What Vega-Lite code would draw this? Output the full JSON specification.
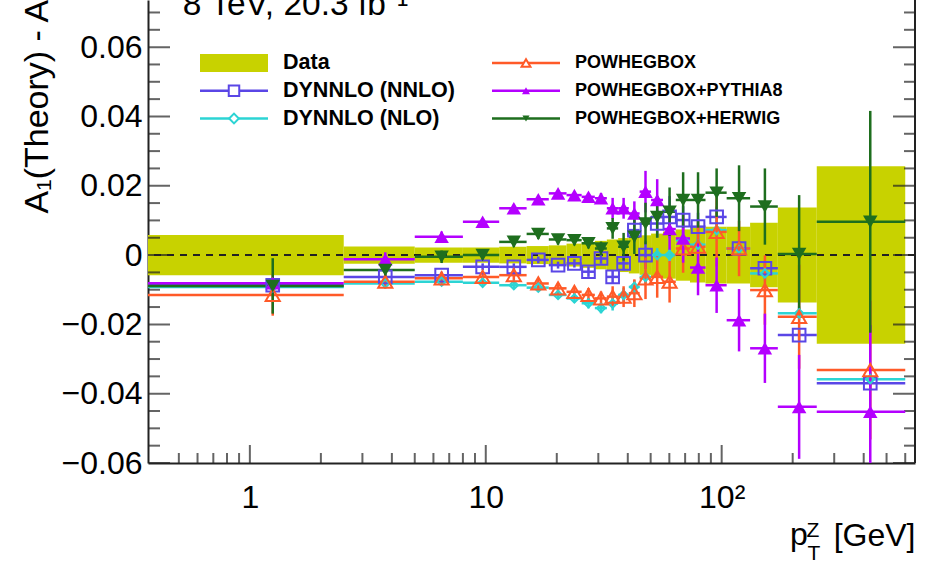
{
  "$schema": "https://vega.github.io/schema/vega-lite/v6.json",
  "width": 767,
  "height": 463,
  "autosize": {"type": "none"},
  "padding": {"left": 148, "top": 0, "right": 15, "bottom": 99},
  "background": "white",
  "config": {"view": {"stroke": null}, "font": "Liberation Sans", "axis": {"grid": false}},
  "resolve": {"scale": {"x": "independent", "y": "independent", "shape": "independent", "size": "independent"}},
  "datasets": {
    "band": [
      {"xlo": 0, "xhi": 2.5, "lo": -0.0058, "hi": 0.0058},
      {"xlo": 2.5, "xhi": 5, "lo": -0.0025, "hi": 0.0025},
      {"xlo": 5, "xhi": 8, "lo": -0.0022, "hi": 0.0022},
      {"xlo": 8, "xhi": 11.4, "lo": -0.0022, "hi": 0.0022},
      {"xlo": 11.4, "xhi": 14.9, "lo": -0.0024, "hi": 0.0024},
      {"xlo": 14.9, "xhi": 18.5, "lo": -0.0026, "hi": 0.0026},
      {"xlo": 18.5, "xhi": 22, "lo": -0.0028, "hi": 0.0028},
      {"xlo": 22, "xhi": 25.5, "lo": -0.0033, "hi": 0.0033},
      {"xlo": 25.5, "xhi": 29, "lo": -0.0037, "hi": 0.0037},
      {"xlo": 29, "xhi": 32.6, "lo": -0.0041, "hi": 0.0041},
      {"xlo": 32.6, "xhi": 36.4, "lo": -0.0045, "hi": 0.0045},
      {"xlo": 36.4, "xhi": 40.4, "lo": -0.0049, "hi": 0.0049},
      {"xlo": 40.4, "xhi": 44.9, "lo": -0.0053, "hi": 0.0053},
      {"xlo": 44.9, "xhi": 50.2, "lo": -0.0057, "hi": 0.0057},
      {"xlo": 50.2, "xhi": 56.4, "lo": -0.0062, "hi": 0.0062},
      {"xlo": 56.4, "xhi": 63.9, "lo": -0.0068, "hi": 0.0068},
      {"xlo": 63.9, "xhi": 73.4, "lo": -0.0074, "hi": 0.0074},
      {"xlo": 73.4, "xhi": 85.4, "lo": -0.0079, "hi": 0.0079},
      {"xlo": 85.4, "xhi": 105, "lo": -0.0082, "hi": 0.0082},
      {"xlo": 105, "xhi": 132, "lo": -0.0082, "hi": 0.0082},
      {"xlo": 132, "xhi": 173, "lo": -0.0093, "hi": 0.0093},
      {"xlo": 173, "xhi": 253, "lo": -0.0137, "hi": 0.0137},
      {"xlo": 253, "xhi": 600, "lo": -0.0256, "hi": 0.0256}
    ],
    "theory": [
      {"s": "DYNNLO (NNLO)", "x": 1.25, "xlo": 0, "xhi": 2.5, "y": -0.0087, "e": 0.001},
      {"s": "DYNNLO (NNLO)", "x": 3.75, "xlo": 2.5, "xhi": 5, "y": -0.0063, "e": 0.001},
      {"s": "DYNNLO (NNLO)", "x": 6.5, "xlo": 5, "xhi": 8, "y": -0.0058, "e": 0.001},
      {"s": "DYNNLO (NNLO)", "x": 9.7, "xlo": 8, "xhi": 11.4, "y": -0.0034, "e": 0.001},
      {"s": "DYNNLO (NNLO)", "x": 13.15, "xlo": 11.4, "xhi": 14.9, "y": -0.0034, "e": 0.001},
      {"s": "DYNNLO (NNLO)", "x": 16.7, "xlo": 14.9, "xhi": 18.5, "y": -0.0014, "e": 0.001},
      {"s": "DYNNLO (NNLO)", "x": 20.25, "xlo": 18.5, "xhi": 22, "y": -0.0029, "e": 0.001},
      {"s": "DYNNLO (NNLO)", "x": 23.75, "xlo": 22, "xhi": 25.5, "y": -0.0024, "e": 0.0012},
      {"s": "DYNNLO (NNLO)", "x": 27.25, "xlo": 25.5, "xhi": 29, "y": -0.0048, "e": 0.0015},
      {"s": "DYNNLO (NNLO)", "x": 30.8, "xlo": 29, "xhi": 32.6, "y": -0.001, "e": 0.0015},
      {"s": "DYNNLO (NNLO)", "x": 34.5, "xlo": 32.6, "xhi": 36.4, "y": -0.0063, "e": 0.002},
      {"s": "DYNNLO (NNLO)", "x": 38.4, "xlo": 36.4, "xhi": 40.4, "y": -0.0024, "e": 0.002},
      {"s": "DYNNLO (NNLO)", "x": 42.65, "xlo": 40.4, "xhi": 44.9, "y": 0.0072, "e": 0.0035},
      {"s": "DYNNLO (NNLO)", "x": 47.55, "xlo": 44.9, "xhi": 50.2, "y": 0.0, "e": 0.004},
      {"s": "DYNNLO (NNLO)", "x": 53.3, "xlo": 50.2, "xhi": 56.4, "y": 0.0091, "e": 0.004},
      {"s": "DYNNLO (NNLO)", "x": 60.15, "xlo": 56.4, "xhi": 63.9, "y": 0.011, "e": 0.006},
      {"s": "DYNNLO (NNLO)", "x": 68.65, "xlo": 63.9, "xhi": 73.4, "y": 0.0101, "e": 0.004},
      {"s": "DYNNLO (NNLO)", "x": 79.4, "xlo": 73.4, "xhi": 85.4, "y": 0.0082, "e": 0.004},
      {"s": "DYNNLO (NNLO)", "x": 95.2, "xlo": 85.4, "xhi": 105, "y": 0.011, "e": 0.003},
      {"s": "DYNNLO (NNLO)", "x": 118.5, "xlo": 105, "xhi": 132, "y": 0.0019, "e": 0.002},
      {"s": "DYNNLO (NNLO)", "x": 152.5, "xlo": 132, "xhi": 173, "y": -0.0038, "e": 0.002},
      {"s": "DYNNLO (NNLO)", "x": 213, "xlo": 173, "xhi": 253, "y": -0.0231, "e": 0.002},
      {"s": "DYNNLO (NNLO)", "x": 426.5, "xlo": 253, "xhi": 600, "y": -0.037, "e": 0.002},

      {"s": "DYNNLO (NLO)", "x": 1.25, "xlo": 0, "xhi": 2.5, "y": -0.0092, "e": 0.0015},
      {"s": "DYNNLO (NLO)", "x": 3.75, "xlo": 2.5, "xhi": 5, "y": -0.0082, "e": 0.001},
      {"s": "DYNNLO (NLO)", "x": 6.5, "xlo": 5, "xhi": 8, "y": -0.0077, "e": 0.001},
      {"s": "DYNNLO (NLO)", "x": 9.7, "xlo": 8, "xhi": 11.4, "y": -0.008, "e": 0.001},
      {"s": "DYNNLO (NLO)", "x": 13.15, "xlo": 11.4, "xhi": 14.9, "y": -0.0087, "e": 0.001},
      {"s": "DYNNLO (NLO)", "x": 16.7, "xlo": 14.9, "xhi": 18.5, "y": -0.0094, "e": 0.001},
      {"s": "DYNNLO (NLO)", "x": 20.25, "xlo": 18.5, "xhi": 22, "y": -0.0115, "e": 0.0012},
      {"s": "DYNNLO (NLO)", "x": 23.75, "xlo": 22, "xhi": 25.5, "y": -0.0125, "e": 0.0012},
      {"s": "DYNNLO (NLO)", "x": 27.25, "xlo": 25.5, "xhi": 29, "y": -0.0139, "e": 0.0015},
      {"s": "DYNNLO (NLO)", "x": 30.8, "xlo": 29, "xhi": 32.6, "y": -0.0153, "e": 0.0015},
      {"s": "DYNNLO (NLO)", "x": 34.5, "xlo": 32.6, "xhi": 36.4, "y": -0.014, "e": 0.002},
      {"s": "DYNNLO (NLO)", "x": 38.4, "xlo": 36.4, "xhi": 40.4, "y": -0.0115, "e": 0.002},
      {"s": "DYNNLO (NLO)", "x": 42.65, "xlo": 40.4, "xhi": 44.9, "y": -0.0092, "e": 0.002},
      {"s": "DYNNLO (NLO)", "x": 47.55, "xlo": 44.9, "xhi": 50.2, "y": -0.0063, "e": 0.002},
      {"s": "DYNNLO (NLO)", "x": 53.3, "xlo": 50.2, "xhi": 56.4, "y": 0.0, "e": 0.002},
      {"s": "DYNNLO (NLO)", "x": 60.15, "xlo": 56.4, "xhi": 63.9, "y": 0.0, "e": 0.002},
      {"s": "DYNNLO (NLO)", "x": 68.65, "xlo": 63.9, "xhi": 73.4, "y": 0.0043, "e": 0.0025},
      {"s": "DYNNLO (NLO)", "x": 79.4, "xlo": 73.4, "xhi": 85.4, "y": 0.003, "e": 0.003},
      {"s": "DYNNLO (NLO)", "x": 95.2, "xlo": 85.4, "xhi": 105, "y": 0.0072, "e": 0.003},
      {"s": "DYNNLO (NLO)", "x": 118.5, "xlo": 105, "xhi": 132, "y": 0.0019, "e": 0.002},
      {"s": "DYNNLO (NLO)", "x": 152.5, "xlo": 132, "xhi": 173, "y": -0.0053, "e": 0.002},
      {"s": "DYNNLO (NLO)", "x": 213, "xlo": 173, "xhi": 253, "y": -0.0168, "e": 0.002},
      {"s": "DYNNLO (NLO)", "x": 426.5, "xlo": 253, "xhi": 600, "y": -0.0358, "e": 0.002},

      {"s": "POWHEGBOX", "x": 1.25, "xlo": 0, "xhi": 2.5, "y": -0.0115, "e": 0.006},
      {"s": "POWHEGBOX", "x": 3.75, "xlo": 2.5, "xhi": 5, "y": -0.0077, "e": 0.002},
      {"s": "POWHEGBOX", "x": 6.5, "xlo": 5, "xhi": 8, "y": -0.0067, "e": 0.0015},
      {"s": "POWHEGBOX", "x": 9.7, "xlo": 8, "xhi": 11.4, "y": -0.0063, "e": 0.0015},
      {"s": "POWHEGBOX", "x": 13.15, "xlo": 11.4, "xhi": 14.9, "y": -0.0058, "e": 0.0015},
      {"s": "POWHEGBOX", "x": 16.7, "xlo": 14.9, "xhi": 18.5, "y": -0.0082, "e": 0.0015},
      {"s": "POWHEGBOX", "x": 20.25, "xlo": 18.5, "xhi": 22, "y": -0.0096, "e": 0.0015},
      {"s": "POWHEGBOX", "x": 23.75, "xlo": 22, "xhi": 25.5, "y": -0.0106, "e": 0.0015},
      {"s": "POWHEGBOX", "x": 27.25, "xlo": 25.5, "xhi": 29, "y": -0.0115, "e": 0.002},
      {"s": "POWHEGBOX", "x": 30.8, "xlo": 29, "xhi": 32.6, "y": -0.0125, "e": 0.002},
      {"s": "POWHEGBOX", "x": 34.5, "xlo": 32.6, "xhi": 36.4, "y": -0.012, "e": 0.003},
      {"s": "POWHEGBOX", "x": 38.4, "xlo": 36.4, "xhi": 40.4, "y": -0.012, "e": 0.003},
      {"s": "POWHEGBOX", "x": 42.65, "xlo": 40.4, "xhi": 44.9, "y": -0.011, "e": 0.004},
      {"s": "POWHEGBOX", "x": 47.55, "xlo": 44.9, "xhi": 50.2, "y": -0.0067, "e": 0.006},
      {"s": "POWHEGBOX", "x": 53.3, "xlo": 50.2, "xhi": 56.4, "y": -0.0063, "e": 0.006},
      {"s": "POWHEGBOX", "x": 60.15, "xlo": 56.4, "xhi": 63.9, "y": -0.0077, "e": 0.006},
      {"s": "POWHEGBOX", "x": 68.65, "xlo": 63.9, "xhi": 73.4, "y": 0.0019, "e": 0.007},
      {"s": "POWHEGBOX", "x": 79.4, "xlo": 73.4, "xhi": 85.4, "y": 0.0024, "e": 0.008},
      {"s": "POWHEGBOX", "x": 95.2, "xlo": 85.4, "xhi": 105, "y": 0.0067, "e": 0.01},
      {"s": "POWHEGBOX", "x": 118.5, "xlo": 105, "xhi": 132, "y": 0.0019, "e": 0.008},
      {"s": "POWHEGBOX", "x": 152.5, "xlo": 132, "xhi": 173, "y": -0.0101, "e": 0.01},
      {"s": "POWHEGBOX", "x": 213, "xlo": 173, "xhi": 253, "y": -0.0178, "e": 0.015},
      {"s": "POWHEGBOX", "x": 426.5, "xlo": 253, "xhi": 600, "y": -0.0332, "e": 0.02},

      {"s": "POWHEGBOX+PYTHIA8", "x": 1.25, "xlo": 0, "xhi": 2.5, "y": -0.0081, "e": 0.001},
      {"s": "POWHEGBOX+PYTHIA8", "x": 3.75, "xlo": 2.5, "xhi": 5, "y": -0.0012, "e": 0.002},
      {"s": "POWHEGBOX+PYTHIA8", "x": 6.5, "xlo": 5, "xhi": 8, "y": 0.0053, "e": 0.0015},
      {"s": "POWHEGBOX+PYTHIA8", "x": 9.7, "xlo": 8, "xhi": 11.4, "y": 0.0096, "e": 0.001},
      {"s": "POWHEGBOX+PYTHIA8", "x": 13.15, "xlo": 11.4, "xhi": 14.9, "y": 0.0135, "e": 0.001},
      {"s": "POWHEGBOX+PYTHIA8", "x": 16.7, "xlo": 14.9, "xhi": 18.5, "y": 0.0161, "e": 0.001},
      {"s": "POWHEGBOX+PYTHIA8", "x": 20.25, "xlo": 18.5, "xhi": 22, "y": 0.0178, "e": 0.001},
      {"s": "POWHEGBOX+PYTHIA8", "x": 23.75, "xlo": 22, "xhi": 25.5, "y": 0.0173, "e": 0.001},
      {"s": "POWHEGBOX+PYTHIA8", "x": 27.25, "xlo": 25.5, "xhi": 29, "y": 0.0168, "e": 0.001},
      {"s": "POWHEGBOX+PYTHIA8", "x": 30.8, "xlo": 29, "xhi": 32.6, "y": 0.0164, "e": 0.0015},
      {"s": "POWHEGBOX+PYTHIA8", "x": 34.5, "xlo": 32.6, "xhi": 36.4, "y": 0.0135, "e": 0.003},
      {"s": "POWHEGBOX+PYTHIA8", "x": 38.4, "xlo": 36.4, "xhi": 40.4, "y": 0.0135, "e": 0.003},
      {"s": "POWHEGBOX+PYTHIA8", "x": 42.65, "xlo": 40.4, "xhi": 44.9, "y": 0.012, "e": 0.0035},
      {"s": "POWHEGBOX+PYTHIA8", "x": 47.55, "xlo": 44.9, "xhi": 50.2, "y": 0.0183, "e": 0.006},
      {"s": "POWHEGBOX+PYTHIA8", "x": 53.3, "xlo": 50.2, "xhi": 56.4, "y": 0.0159, "e": 0.006},
      {"s": "POWHEGBOX+PYTHIA8", "x": 60.15, "xlo": 56.4, "xhi": 63.9, "y": 0.0075, "e": 0.006},
      {"s": "POWHEGBOX+PYTHIA8", "x": 68.65, "xlo": 63.9, "xhi": 73.4, "y": 0.0048, "e": 0.007},
      {"s": "POWHEGBOX+PYTHIA8", "x": 79.4, "xlo": 73.4, "xhi": 85.4, "y": -0.0036, "e": 0.008},
      {"s": "POWHEGBOX+PYTHIA8", "x": 95.2, "xlo": 85.4, "xhi": 105, "y": -0.0087, "e": 0.008},
      {"s": "POWHEGBOX+PYTHIA8", "x": 118.5, "xlo": 105, "xhi": 132, "y": -0.0188, "e": 0.009},
      {"s": "POWHEGBOX+PYTHIA8", "x": 152.5, "xlo": 132, "xhi": 173, "y": -0.0269, "e": 0.01},
      {"s": "POWHEGBOX+PYTHIA8", "x": 213, "xlo": 173, "xhi": 253, "y": -0.0438, "e": 0.015},
      {"s": "POWHEGBOX+PYTHIA8", "x": 426.5, "xlo": 253, "xhi": 600, "y": -0.0452, "e": 0.025},

      {"s": "POWHEGBOX+HERWIG", "x": 1.25, "xlo": 0, "xhi": 2.5, "y": -0.0089, "e": 0.008},
      {"s": "POWHEGBOX+HERWIG", "x": 3.75, "xlo": 2.5, "xhi": 5, "y": -0.0043, "e": 0.002},
      {"s": "POWHEGBOX+HERWIG", "x": 6.5, "xlo": 5, "xhi": 8, "y": -0.0005, "e": 0.0018},
      {"s": "POWHEGBOX+HERWIG", "x": 9.7, "xlo": 8, "xhi": 11.4, "y": 0.0, "e": 0.0015},
      {"s": "POWHEGBOX+HERWIG", "x": 13.15, "xlo": 11.4, "xhi": 14.9, "y": 0.0038, "e": 0.0015},
      {"s": "POWHEGBOX+HERWIG", "x": 16.7, "xlo": 14.9, "xhi": 18.5, "y": 0.0061, "e": 0.0015},
      {"s": "POWHEGBOX+HERWIG", "x": 20.25, "xlo": 18.5, "xhi": 22, "y": 0.0045, "e": 0.0015},
      {"s": "POWHEGBOX+HERWIG", "x": 23.75, "xlo": 22, "xhi": 25.5, "y": 0.0043, "e": 0.0015},
      {"s": "POWHEGBOX+HERWIG", "x": 27.25, "xlo": 25.5, "xhi": 29, "y": 0.0034, "e": 0.0015},
      {"s": "POWHEGBOX+HERWIG", "x": 30.8, "xlo": 29, "xhi": 32.6, "y": 0.0019, "e": 0.002},
      {"s": "POWHEGBOX+HERWIG", "x": 34.5, "xlo": 32.6, "xhi": 36.4, "y": 0.0077, "e": 0.003},
      {"s": "POWHEGBOX+HERWIG", "x": 38.4, "xlo": 36.4, "xhi": 40.4, "y": 0.0024, "e": 0.004},
      {"s": "POWHEGBOX+HERWIG", "x": 42.65, "xlo": 40.4, "xhi": 44.9, "y": 0.0053, "e": 0.005},
      {"s": "POWHEGBOX+HERWIG", "x": 47.55, "xlo": 44.9, "xhi": 50.2, "y": 0.0091, "e": 0.006},
      {"s": "POWHEGBOX+HERWIG", "x": 53.3, "xlo": 50.2, "xhi": 56.4, "y": 0.011, "e": 0.006},
      {"s": "POWHEGBOX+HERWIG", "x": 60.15, "xlo": 56.4, "xhi": 63.9, "y": 0.0125, "e": 0.007},
      {"s": "POWHEGBOX+HERWIG", "x": 68.65, "xlo": 63.9, "xhi": 73.4, "y": 0.0159, "e": 0.008},
      {"s": "POWHEGBOX+HERWIG", "x": 79.4, "xlo": 73.4, "xhi": 85.4, "y": 0.0159, "e": 0.008},
      {"s": "POWHEGBOX+HERWIG", "x": 95.2, "xlo": 85.4, "xhi": 105, "y": 0.018, "e": 0.007},
      {"s": "POWHEGBOX+HERWIG", "x": 118.5, "xlo": 105, "xhi": 132, "y": 0.0164, "e": 0.0095},
      {"s": "POWHEGBOX+HERWIG", "x": 152.5, "xlo": 132, "xhi": 173, "y": 0.014, "e": 0.011},
      {"s": "POWHEGBOX+HERWIG", "x": 213, "xlo": 173, "xhi": 253, "y": 0.0003, "e": 0.017},
      {"s": "POWHEGBOX+HERWIG", "x": 426.5, "xlo": 253, "xhi": 600, "y": 0.0096, "e": 0.032}
    ],
    "xmaj": [{"v": 1}, {"v": 10}, {"v": 100}],
    "xmin": [{"v": 0.5}, {"v": 0.6}, {"v": 0.7}, {"v": 0.8}, {"v": 0.9}, {"v": 2}, {"v": 3}, {"v": 4}, {"v": 5}, {"v": 6}, {"v": 7}, {"v": 8}, {"v": 9}, {"v": 20}, {"v": 30}, {"v": 40}, {"v": 50}, {"v": 60}, {"v": 70}, {"v": 80}, {"v": 90}, {"v": 200}, {"v": 300}, {"v": 400}, {"v": 500}, {"v": 600}],
    "ymaj": [{"v": -0.06}, {"v": -0.04}, {"v": -0.02}, {"v": 0}, {"v": 0.02}, {"v": 0.04}, {"v": 0.06}],
    "ymin": [{"v": -0.055}, {"v": -0.05}, {"v": -0.045}, {"v": -0.035}, {"v": -0.03}, {"v": -0.025}, {"v": -0.015}, {"v": -0.01}, {"v": -0.005}, {"v": 0.005}, {"v": 0.01}, {"v": 0.015}, {"v": 0.025}, {"v": 0.03}, {"v": 0.035}, {"v": 0.045}, {"v": 0.05}, {"v": 0.055}, {"v": 0.065}, {"v": 0.07}],
    "note": [{"t": "8 TeV, 20.3 fb⁻¹", "x": 0.52, "y": 0.0693}],
    "pt": [{"t": "p", "x": 195, "y": -0.0837}],
    "scripts": [{"t": "Z", "x": 229, "y": -0.0814}, {"t": "T", "x": 231, "y": -0.088}],
    "one": [{"z": 0}],
    "leg": [
      {"s": "Data", "col": 0, "row": 0},
      {"s": "DYNNLO (NNLO)", "col": 0, "row": 1},
      {"s": "DYNNLO (NLO)", "col": 0, "row": 2},
      {"s": "POWHEGBOX", "col": 1, "row": 0},
      {"s": "POWHEGBOX+PYTHIA8", "col": 1, "row": 1},
      {"s": "POWHEGBOX+HERWIG", "col": 1, "row": 2}
    ]
  },
  "layer": [
    {
      "layer": [
        {
          "data": {"name": "band"},
          "mark": {"type": "rect", "color": "#c8d200", "invalid": "show", "clip": true},
          "encoding": {
            "x": {"field": "xlo", "type": "quantitative",
              "scale": {"type": "log", "domain": [0.37, 660], "nice": false, "clamp": true},
              "axis": {"orient": "bottom", "values": [1, 10, 100], "labelExpr": "datum.value == 100 ? '10²' : datum.value == 10 ? '10' : '1'",
                "ticks": false, "domainColor": "#222", "domainWidth": 2,
                "labelFont": "Liberation Sans", "labelFontSize": 32, "labelColor": "black", "labelPadding": 19, "labelFlush": false, "labelOverlap": false,
                "title": "[GeV]", "titleFont": "Liberation Sans", "titleFontSize": 32, "titleFontWeight": "normal", "titleColor": "black",
                "titleAnchor": "end", "titleAlign": "right", "titleX": 767, "titleY": 82, "titleBaseline": "alphabetic"}},
            "x2": {"field": "xhi"},
            "y": {"field": "lo", "type": "quantitative",
              "scale": {"domain": [-0.06, 0.0736], "nice": false, "zero": false},
              "axis": {"orient": "left", "values": [-0.06, -0.04, -0.02, 0, 0.02, 0.04, 0.06],
                "labelExpr": "datum.value == 0 ? '0' : format(datum.value, '.2f')",
                "ticks": false, "domainColor": "#222", "domainWidth": 2,
                "labelFont": "Liberation Sans", "labelFontSize": 32, "labelColor": "black", "labelPadding": 6, "labelFlush": false, "labelOverlap": false,
                "title": "A₁(Theory) - A₁(Data)", "titleFont": "Liberation Sans", "titleFontSize": 34, "titleFontWeight": "normal", "titleColor": "black",
                "titleAngle": 270, "titleAlign": "left", "titleBaseline": "alphabetic", "titleX": -101, "titleY": 213}},
            "y2": {"field": "hi"}
          }
        },
        {
          "data": {"name": "one"},
          "mark": {"type": "rule", "strokeDash": [7, 6], "strokeWidth": 2, "color": "#222"},
          "encoding": {"y": {"datum": 0, "type": "quantitative"}}
        },
        {
          "data": {"name": "one"},
          "mark": {"type": "rule", "strokeWidth": 2, "color": "#222"},
          "encoding": {"x": {"datum": 660, "type": "quantitative"}}
        },
        {
          "data": {"name": "xmaj"},
          "mark": {"type": "tick", "orient": "vertical", "size": 36, "thickness": 2, "color": "#222", "clip": true},
          "encoding": {"x": {"field": "v", "type": "quantitative"}, "y": {"datum": -0.06, "type": "quantitative"}}
        },
        {
          "data": {"name": "xmin"},
          "mark": {"type": "tick", "orient": "vertical", "size": 20, "thickness": 2, "color": "#222", "clip": true},
          "encoding": {"x": {"field": "v", "type": "quantitative"}, "y": {"datum": -0.06, "type": "quantitative"}}
        },
        {
          "data": {"name": "ymaj"},
          "mark": {"type": "tick", "orient": "horizontal", "size": 44, "thickness": 2, "color": "#222", "clip": true},
          "encoding": {"y": {"field": "v", "type": "quantitative"}, "x": {"datum": 0.37, "type": "quantitative"}}
        },
        {
          "data": {"name": "ymin"},
          "mark": {"type": "tick", "orient": "horizontal", "size": 24, "thickness": 2, "color": "#222", "clip": true},
          "encoding": {"y": {"field": "v", "type": "quantitative"}, "x": {"datum": 0.37, "type": "quantitative"}}
        },
        {
          "data": {"name": "ymaj"},
          "mark": {"type": "tick", "orient": "horizontal", "size": 44, "thickness": 2, "color": "#222", "clip": true},
          "encoding": {"y": {"field": "v", "type": "quantitative"}, "x": {"datum": 660, "type": "quantitative"}}
        },
        {
          "data": {"name": "ymin"},
          "mark": {"type": "tick", "orient": "horizontal", "size": 22, "thickness": 2, "color": "#222", "clip": true},
          "encoding": {"y": {"field": "v", "type": "quantitative"}, "x": {"datum": 660, "type": "quantitative"}}
        },
        {
          "data": {"name": "theory"},
          "mark": {"type": "rule", "strokeWidth": 2.5, "clip": true, "invalid": "show"},
          "encoding": {
            "x": {"field": "xlo", "type": "quantitative"},
            "x2": {"field": "xhi"},
            "y": {"field": "y", "type": "quantitative"},
            "color": {"field": "s", "type": "nominal", "legend": null,
              "scale": {"domain": ["Data", "POWHEGBOX", "DYNNLO (NNLO)", "POWHEGBOX+PYTHIA8", "DYNNLO (NLO)", "POWHEGBOX+HERWIG"],
                        "range": ["#c8d200", "#ff5a28", "#5a46e6", "#b400ff", "#2cd4d4", "#1e6e1e"]}}
          }
        },
        {
          "data": {"name": "theory"},
          "mark": {"type": "errorbar", "ticks": false, "thickness": 2.5, "clip": true},
          "encoding": {
            "x": {"field": "x", "type": "quantitative"},
            "y": {"field": "y", "type": "quantitative"},
            "yError": {"field": "e"},
            "color": {"field": "s", "type": "nominal", "legend": null}
          }
        },
        {
          "data": {"name": "theory"},
          "transform": [{"filter": {"field": "s", "equal": "DYNNLO (NNLO)"}}],
          "mark": {"type": "point", "shape": "square", "size": 160, "filled": false, "strokeWidth": 2, "opacity": 1, "clip": true},
          "encoding": {
            "x": {"field": "x", "type": "quantitative"},
            "y": {"field": "y", "type": "quantitative"},
            "color": {"field": "s", "type": "nominal", "legend": null}
          }
        },
        {
          "data": {"name": "theory"},
          "transform": [{"filter": {"field": "s", "equal": "DYNNLO (NLO)"}}],
          "mark": {"type": "point", "shape": "diamond", "size": 70, "filled": false, "strokeWidth": 2, "opacity": 1, "clip": true},
          "encoding": {
            "x": {"field": "x", "type": "quantitative"},
            "y": {"field": "y", "type": "quantitative"},
            "color": {"field": "s", "type": "nominal", "legend": null}
          }
        },
        {
          "data": {"name": "theory"},
          "transform": [{"filter": {"field": "s", "equal": "POWHEGBOX"}}],
          "mark": {"type": "point", "shape": "triangle-up", "size": 200, "filled": false, "strokeWidth": 2, "opacity": 1, "clip": true},
          "encoding": {
            "x": {"field": "x", "type": "quantitative"},
            "y": {"field": "y", "type": "quantitative"},
            "color": {"field": "s", "type": "nominal", "legend": null}
          }
        },
        {
          "data": {"name": "theory"},
          "transform": [{"filter": {"field": "s", "equal": "POWHEGBOX+PYTHIA8"}}],
          "mark": {"type": "point", "shape": "triangle-up", "size": 210, "filled": true, "opacity": 1, "clip": true},
          "encoding": {
            "x": {"field": "x", "type": "quantitative"},
            "y": {"field": "y", "type": "quantitative"},
            "color": {"field": "s", "type": "nominal", "legend": null}
          }
        },
        {
          "data": {"name": "theory"},
          "transform": [{"filter": {"field": "s", "equal": "POWHEGBOX+HERWIG"}}],
          "mark": {"type": "point", "shape": "triangle-down", "size": 210, "filled": true, "opacity": 1, "clip": true},
          "encoding": {
            "x": {"field": "x", "type": "quantitative"},
            "y": {"field": "y", "type": "quantitative"},
            "color": {"field": "s", "type": "nominal", "legend": null}
          }
        },
        {
          "data": {"name": "note"},
          "mark": {"type": "text", "font": "Liberation Sans", "fontSize": 33.5, "align": "left", "baseline": "alphabetic", "color": "black"},
          "encoding": {
            "x": {"field": "x", "type": "quantitative"},
            "y": {"field": "y", "type": "quantitative"},
            "text": {"field": "t"}
          }
        },
        {
          "data": {"name": "pt"},
          "mark": {"type": "text", "font": "Liberation Sans", "fontSize": 32, "align": "left", "baseline": "alphabetic", "color": "black"},
          "encoding": {
            "x": {"field": "x", "type": "quantitative"},
            "y": {"field": "y", "type": "quantitative"},
            "text": {"field": "t"}
          }
        },
        {
          "data": {"name": "scripts"},
          "mark": {"type": "text", "font": "Liberation Sans", "fontSize": 21, "align": "left", "baseline": "alphabetic", "color": "black"},
          "encoding": {
            "x": {"field": "x", "type": "quantitative"},
            "y": {"field": "y", "type": "quantitative"},
            "text": {"field": "t"}
          }
        }
      ]
    },
    {
      "data": {"name": "leg"},
      "layer": [
        {
          "transform": [{"filter": {"field": "s", "equal": "Data"}}],
          "mark": {"type": "rect", "xOffset": -34, "x2Offset": 34, "yOffset": -9, "y2Offset": 9},
          "encoding": {
            "x": {"field": "col", "type": "quantitative", "scale": {"domain": [0, 1], "range": [86, 378]}, "axis": null},
            "x2": {"field": "col"},
            "y": {"field": "row", "type": "quantitative", "scale": {"domain": [0, 2], "range": [63, 118.5]}, "axis": null},
            "y2": {"field": "row"},
            "color": {"field": "s", "type": "nominal", "legend": null}
          }
        },
        {
          "transform": [{"filter": {"field": "s", "oneOf": ["DYNNLO (NNLO)", "DYNNLO (NLO)", "POWHEGBOX", "POWHEGBOX+PYTHIA8", "POWHEGBOX+HERWIG"]}}],
          "mark": {"type": "rule", "strokeWidth": 2.5, "xOffset": -34, "x2Offset": 34},
          "encoding": {
            "x": {"field": "col", "type": "quantitative", "axis": null},
            "x2": {"field": "col"},
            "y": {"field": "row", "type": "quantitative", "axis": null},
            "color": {"field": "s", "type": "nominal", "legend": null}
          }
        },
        {
          "transform": [{"filter": {"field": "s", "oneOf": ["DYNNLO (NNLO)", "DYNNLO (NLO)", "POWHEGBOX"]}}],
          "mark": {"type": "point", "filled": false, "fill": "white", "strokeWidth": 2, "opacity": 1},
          "encoding": {
            "x": {"field": "col", "type": "quantitative", "axis": null},
            "y": {"field": "row", "type": "quantitative", "axis": null},
            "color": {"field": "s", "type": "nominal", "legend": null},
            "shape": {"field": "s", "type": "nominal", "legend": null,
              "scale": {"domain": ["DYNNLO (NNLO)", "DYNNLO (NLO)", "POWHEGBOX", "POWHEGBOX+PYTHIA8", "POWHEGBOX+HERWIG"],
                        "range": ["square", "diamond", "triangle-up", "triangle-up", "triangle-down"]}},
            "size": {"field": "s", "type": "nominal", "legend": null,
              "scale": {"domain": ["DYNNLO (NNLO)", "DYNNLO (NLO)", "POWHEGBOX", "POWHEGBOX+PYTHIA8", "POWHEGBOX+HERWIG"],
                        "range": [110, 50, 190, 200, 200]}}
          }
        },
        {
          "transform": [{"filter": {"field": "s", "oneOf": ["POWHEGBOX+PYTHIA8", "POWHEGBOX+HERWIG"]}}],
          "mark": {"type": "point", "filled": true, "opacity": 1},
          "encoding": {
            "x": {"field": "col", "type": "quantitative", "axis": null},
            "y": {"field": "row", "type": "quantitative", "axis": null},
            "color": {"field": "s", "type": "nominal", "legend": null},
            "shape": {"field": "s", "type": "nominal", "legend": null},
            "size": {"field": "s", "type": "nominal", "legend": null}
          }
        },
        {
          "transform": [{"filter": {"field": "col", "equal": 0}}],
          "mark": {"type": "text", "font": "Liberation Sans", "fontWeight": "bold", "fontSize": 21.5, "align": "left", "baseline": "middle", "dx": 49, "color": "black"},
          "encoding": {
            "x": {"field": "col", "type": "quantitative", "axis": null},
            "y": {"field": "row", "type": "quantitative", "axis": null},
            "text": {"field": "s"}
          }
        },
        {
          "transform": [{"filter": {"field": "col", "equal": 1}}],
          "mark": {"type": "text", "font": "Liberation Sans", "fontWeight": "bold", "fontSize": 18, "align": "left", "baseline": "middle", "dx": 49, "color": "black"},
          "encoding": {
            "x": {"field": "col", "type": "quantitative", "axis": null},
            "y": {"field": "row", "type": "quantitative", "axis": null},
            "text": {"field": "s"}
          }
        }
      ]
    }
  ]
}
